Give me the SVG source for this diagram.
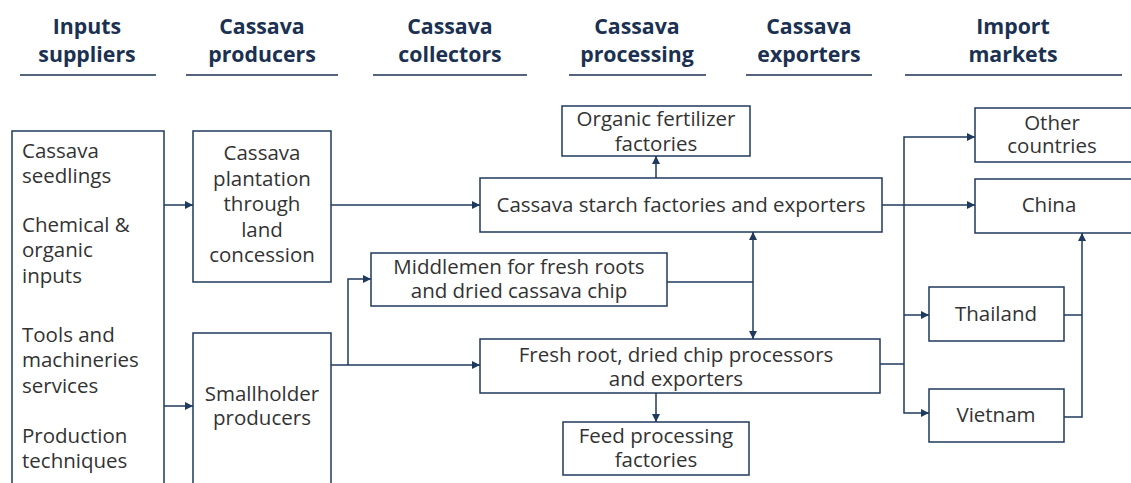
<svg xmlns="http://www.w3.org/2000/svg" width="1131" height="483" viewBox="0 0 1131 483">
  <style>
    .hdr { font-family: "Open Sans", Lato, "Liberation Sans", sans-serif; font-weight: bold; font-size: 21.3px; fill: #1b3152; text-anchor: middle; }
    .rule { stroke: #1b3152; stroke-width: 1.5; }
    .box { fill: #ffffff; stroke: #1f3a5f; stroke-width: 1.5; }
    .lbl { font-family: "Open Sans", Lato, "Liberation Sans", sans-serif; font-size: 20.5px; fill: #333333; text-anchor: middle; }
    .lft { text-anchor: start; }
    .wire { fill: none; stroke: #1f3a5f; stroke-width: 1.5; }
  </style>
  <defs>
    <marker id="arrow" viewBox="0 0 10 10" refX="10" refY="5" markerWidth="8" markerHeight="8" markerUnits="userSpaceOnUse" orient="auto-start-reverse">
      <path d="M0,0 L10,5 L0,10 z" fill="#1f3a5f"/>
    </marker>
  </defs>
  <rect width="1131" height="483" fill="#ffffff"/>

  <!-- column headers -->
  <g id="headers">
    <text class="hdr" x="87" y="34">Inputs<tspan x="87" y="62">suppliers</tspan></text>
    <line class="rule" x1="20" y1="75" x2="156" y2="75"/>
    <text class="hdr" x="262" y="34">Cassava<tspan x="262" y="62">producers</tspan></text>
    <line class="rule" x1="186" y1="75" x2="338" y2="75"/>
    <text class="hdr" x="450" y="34">Cassava<tspan x="450" y="62">collectors</tspan></text>
    <line class="rule" x1="373" y1="75" x2="527" y2="75"/>
    <text class="hdr" x="637" y="34">Cassava<tspan x="637" y="62">processing</tspan></text>
    <line class="rule" x1="569" y1="75" x2="706" y2="75"/>
    <text class="hdr" x="809" y="34">Cassava<tspan x="809" y="62">exporters</tspan></text>
    <line class="rule" x1="746" y1="75" x2="872" y2="75"/>
    <text class="hdr" x="1013" y="34">Import<tspan x="1013" y="62">markets</tspan></text>
    <line class="rule" x1="905" y1="75" x2="1122" y2="75"/>
  </g>

  <!-- connectors -->
  <g id="connectors">
    <line class="wire" x1="164" y1="205" x2="193" y2="205" marker-end="url(#arrow)"/>
    <line class="wire" x1="164" y1="406" x2="193" y2="406" marker-end="url(#arrow)"/>
    <line class="wire" x1="331" y1="205" x2="480" y2="205" marker-end="url(#arrow)"/>
    <line class="wire" x1="331" y1="365" x2="480" y2="365" marker-end="url(#arrow)"/>
    <polyline class="wire" points="348,365 348,279 371,279" marker-end="url(#arrow)"/>
    <line class="wire" x1="656" y1="178" x2="656" y2="156" marker-end="url(#arrow)"/>
    <line class="wire" x1="753" y1="232" x2="753" y2="339" marker-start="url(#arrow)" marker-end="url(#arrow)"/>
    <line class="wire" x1="667" y1="282" x2="753" y2="282"/>
    <line class="wire" x1="656" y1="393" x2="656" y2="422" marker-end="url(#arrow)"/>
    <line class="wire" x1="882" y1="205" x2="975" y2="205" marker-end="url(#arrow)"/>
    <line class="wire" x1="880" y1="364" x2="904" y2="364"/>
    <polyline class="wire" points="975,137 904,137 904,413 929,413" marker-start="url(#arrow)" marker-end="url(#arrow)"/>
    <line class="wire" x1="904" y1="315" x2="929" y2="315" marker-end="url(#arrow)"/>
    <polyline class="wire" points="1064,315 1082,315"/>
    <polyline class="wire" points="1064,417 1082,417 1082,233" marker-end="url(#arrow)"/>
  </g>

  <g id="inputs">
    <rect class="box" x="12" y="131" width="152" height="360"/>
    <text class="lbl lft" x="22" y="158">Cassava<tspan x="22" y="183">seedlings</tspan></text>
    <text class="lbl lft" x="22" y="232">Chemical &amp;<tspan x="22" y="257">organic</tspan><tspan x="22" y="283">inputs</tspan></text>
    <text class="lbl lft" x="22" y="342">Tools and<tspan x="22" y="367">machineries</tspan><tspan x="22" y="393">services</tspan></text>
    <text class="lbl lft" x="22" y="443">Production<tspan x="22" y="468">techniques</tspan></text>
  </g>

  <g id="plantation">
    <rect class="box" x="193" y="131" width="138" height="151"/>
    <text class="lbl" x="262" y="160">Cassava<tspan x="262" y="186">plantation</tspan><tspan x="262" y="211">through</tspan><tspan x="262" y="237">land</tspan><tspan x="262" y="262">concession</tspan></text>
  </g>

  <g id="smallholder">
    <rect class="box" x="193" y="333" width="138" height="160"/>
    <text class="lbl" x="262" y="401">Smallholder<tspan x="262" y="425">producers</tspan></text>
  </g>

  <g id="middlemen">
    <rect class="box" x="371" y="253" width="296" height="53"/>
    <text class="lbl" x="519" y="274">Middlemen for fresh roots<tspan x="519" y="298">and dried cassava chip</tspan></text>
  </g>

  <g id="fertilizer">
    <rect class="box" x="562" y="106" width="188" height="50"/>
    <text class="lbl" x="656" y="126">Organic fertilizer<tspan x="656" y="151">factories</tspan></text>
  </g>

  <g id="starch">
    <rect class="box" x="480" y="178" width="402" height="54"/>
    <text class="lbl" x="681" y="212">Cassava starch factories and exporters</text>
  </g>

  <g id="freshroot">
    <rect class="box" x="480" y="339" width="400" height="54"/>
    <text class="lbl" x="676" y="362">Fresh root, dried chip processors<tspan x="676" y="386">and exporters</tspan></text>
  </g>

  <g id="feed">
    <rect class="box" x="563" y="422" width="186" height="53"/>
    <text class="lbl" x="656" y="443">Feed processing<tspan x="656" y="467">factories</tspan></text>
  </g>

  <g id="other">
    <rect class="box" x="975" y="108" width="170" height="54"/>
    <text class="lbl" x="1052" y="130">Other<tspan x="1052" y="153">countries</tspan></text>
  </g>

  <g id="china">
    <rect class="box" x="975" y="179" width="170" height="54"/>
    <text class="lbl" x="1049" y="212">China</text>
  </g>

  <g id="thailand">
    <rect class="box" x="929" y="287" width="135" height="54"/>
    <text class="lbl" x="996" y="321">Thailand</text>
  </g>

  <g id="vietnam">
    <rect class="box" x="929" y="389" width="135" height="53"/>
    <text class="lbl" x="996" y="422">Vietnam</text>
  </g>
</svg>
